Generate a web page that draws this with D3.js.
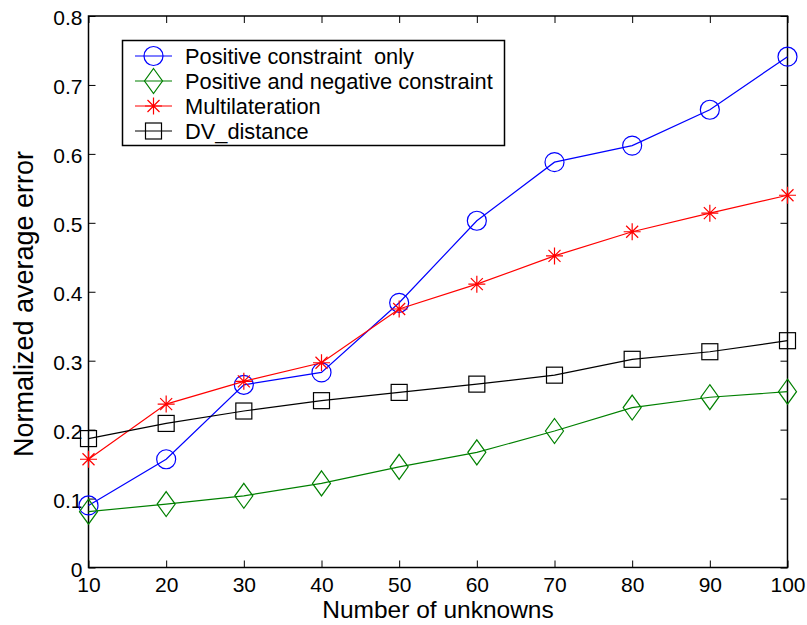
<!DOCTYPE html>
<html>
<head>
<meta charset="utf-8">
<script src="https://cdn.jsdelivr.net/npm/d3@7"></script>
<style>
  html, body { margin: 0; padding: 0; background: #fff; }
  svg { display: block; font-family: "Liberation Sans", Arial, Helvetica, sans-serif; }
</style>
</head>
<body>
<svg id="chart" width="807" height="625"></svg>
<script>
// Number of unknowns on the x axis
const unknowns = [10, 20, 30, 40, 50, 60, 70, 80, 90, 100];

// Normalized average error for each method
const positiveOnly      = [0.090, 0.157, 0.265, 0.283, 0.384, 0.503, 0.588, 0.612, 0.664, 0.741];
const positiveNegative  = [0.081, 0.092, 0.104, 0.122, 0.146, 0.167, 0.198, 0.232, 0.247, 0.255];
const multilateration   = [0.157, 0.237, 0.270, 0.297, 0.375, 0.411, 0.452, 0.487, 0.514, 0.540];
const dvDistance        = [0.187, 0.209, 0.227, 0.242, 0.254, 0.266, 0.279, 0.302, 0.313, 0.329];

const seriesNames = ["Positive constraint  only", "Positive and negative constraint", "Multilateration", "DV_distance"];
const xTicks = [10, 20, 30, 40, 50, 60, 70, 80, 90, 100];
const yTicks = [0, 0.1, 0.2, 0.3, 0.4, 0.5, 0.6, 0.7, 0.8];

const series = [
  { name: seriesNames[0], values: positiveOnly,     color: "#0000ff", marker: "circle" },
  { name: seriesNames[1], values: positiveNegative, color: "#008000", marker: "diamond" },
  { name: seriesNames[2], values: multilateration,  color: "#ff0000", marker: "star" },
  { name: seriesNames[3], values: dvDistance,       color: "#000000", marker: "square" }
];

const plot = { left: 88.5, right: 787.5, top: 16, bottom: 567.5 };
const svg = d3.select("#chart");

const x = d3.scaleLinear().domain([10, 100]).range([plot.left, plot.right]);
const y = d3.scaleLinear().domain([0, 0.8]).range([plot.bottom, plot.top]);

// Tick marks point inward on all four sides of the box
const tickLen = 7;
const fmtY = v => v === 0 ? "0" : d3.format(".1f")(v);

const bottomAxis = d3.axisBottom(x).tickValues(xTicks).tickSize(-tickLen).tickPadding(10).tickFormat(d3.format("d"));
const topAxis = d3.axisTop(x).tickValues(xTicks).tickSize(-tickLen).tickFormat("");
const leftAxis = d3.axisLeft(y).tickValues(yTicks).tickSize(-tickLen).tickPadding(6).tickFormat(fmtY);
const rightAxis = d3.axisRight(y).tickValues(yTicks).tickSize(-tickLen).tickFormat("");

function styleAxis(g) {
  g.select(".domain").remove();
  g.selectAll(".tick line").attr("stroke", "#000").attr("stroke-width", 1);
  g.selectAll(".tick text").attr("fill", "#000").attr("font-size", 21);
}

svg.append("g").attr("transform", `translate(0,${plot.bottom})`).call(bottomAxis).call(styleAxis)
  .selectAll(".tick text").attr("dy", "0.71em").attr("y", 10);
svg.append("g").attr("transform", `translate(0,${plot.top})`).call(topAxis).call(styleAxis);
svg.append("g").attr("transform", `translate(${plot.left},0)`).call(leftAxis).call(styleAxis)
  .selectAll(".tick text").attr("dy", "0.42em").attr("x", -6);
svg.append("g").attr("transform", `translate(${plot.right},0)`).call(rightAxis).call(styleAxis);

// Axes box
svg.append("rect")
  .attr("x", plot.left).attr("y", plot.top)
  .attr("width", plot.right - plot.left).attr("height", plot.bottom - plot.top)
  .attr("fill", "none").attr("stroke", "#000").attr("stroke-width", 1.5);

// Marker shapes
function drawMarker(g, type, cx, cy, color) {
  const common = sel => sel.attr("fill", "none").attr("stroke", color).attr("stroke-width", 1.2);
  if (type === "circle") {
    g.append("circle").attr("cx", cx).attr("cy", cy).attr("r", 9.5).call(common);
  } else if (type === "diamond") {
    const hw = 9, hh = 12.5;
    g.append("path").attr("d", `M${cx},${cy - hh}L${cx + hw},${cy}L${cx},${cy + hh}L${cx - hw},${cy}Z`).call(common);
  } else if (type === "square") {
    const h = 8;
    g.append("rect").attr("x", cx - h).attr("y", cy - h).attr("width", 2 * h).attr("height", 2 * h).call(common);
  } else if (type === "star") {
    const a = 8.5, d = 6;
    const p = `M${cx - a},${cy}L${cx + a},${cy}M${cx},${cy - a}L${cx},${cy + a}` +
              `M${cx - d},${cy - d}L${cx + d},${cy + d}M${cx - d},${cy + d}L${cx + d},${cy - d}`;
    g.append("path").attr("d", p).call(common);
  }
}

const line = d3.line().x((d, i) => x(unknowns[i])).y(d => y(d));

series.forEach(s => {
  const g = svg.append("g");
  g.append("path").datum(s.values).attr("d", line)
    .attr("fill", "none").attr("stroke", s.color).attr("stroke-width", 1.2);
  s.values.forEach((v, i) => drawMarker(g, s.marker, x(unknowns[i]), y(v), s.color));
});

// Legend
const legend = svg.append("g");
legend.append("rect")
  .attr("x", 122.5).attr("y", 40.5).attr("width", 382).attr("height", 105)
  .attr("fill", "#fff").attr("stroke", "#000").attr("stroke-width", 1.5);
series.forEach((s, i) => {
  const cy = 56 + i * 25;
  legend.append("line").attr("x1", 135).attr("x2", 172).attr("y1", cy).attr("y2", cy)
    .attr("stroke", s.color).attr("stroke-width", 1.2);
  drawMarker(legend, s.marker, 153.5, cy, s.color);
  legend.append("text").attr("x", 185).attr("y", cy + 7.8)
    .attr("font-size", 21.8).attr("fill", "#000").style("white-space", "pre").text(s.name);
});

// Axis titles
svg.append("text").attr("x", (plot.left + plot.right) / 2).attr("y", 618)
  .attr("text-anchor", "middle").attr("font-size", 24.5).attr("fill", "#000")
  .text("Number of unknowns");
svg.append("text").attr("transform", `translate(33,304) rotate(-90)`)
  .attr("text-anchor", "middle").attr("font-size", 27).attr("fill", "#000")
  .text("Normalized average error");
</script>
</body>
</html>
